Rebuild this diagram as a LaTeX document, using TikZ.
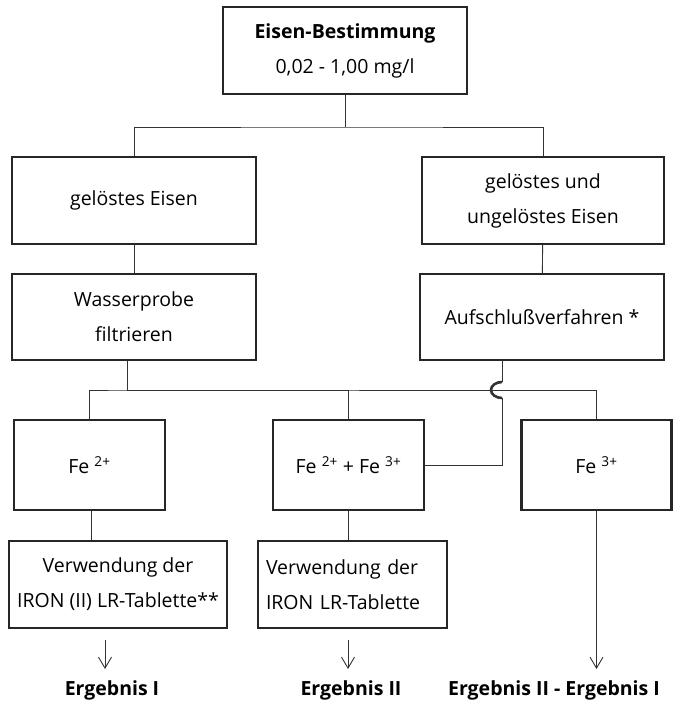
\documentclass[tikz,border=0pt]{standalone}
\usepackage{fontspec}
\setmainfont{Open Sans}
\usetikzlibrary{arrows.meta}
\tikzset{
  box/.style={draw=black!85, line width=2.2pt, minimum width=244pt, minimum height=87pt, align=center, inner sep=0pt},
  line/.style={draw=black!80, line width=0.9pt},
}

\begin{document}
\begin{tikzpicture}[x=1pt,y=-1pt,font=\fontsize{19.5}{35}\selectfont,>={Straight Barb[length=11pt,width=13pt]}]
				\useasboundingbox (0,0) rectangle (673,701);
				\node[box] (top) at (345,50.5) {\textbf{Eisen-Bestimmung}\\0,02 - 1,00 mg/l};
				\node[box] (gel) at (134,200.5) {gelöstes Eisen};
				\node[box, minimum width=242pt] (ungel) at (543,200.5) {gelöstes und\\ungelöstes Eisen};
				\node[box, minimum height=86pt] (filt) at (134,317) {Wasserprobe\\filtrieren};
				\node[box, minimum height=86pt] (auf) at (542,317) {Aufschlußverfahren *};
				\node[box, minimum width=151pt, minimum height=90pt] (fe2) at (89.5,465) {Fe \textsuperscript{2+}};
				\node[box, minimum width=151pt, minimum height=90pt] (fe23) at (348.5,465) {Fe \textsuperscript{2+} + Fe \textsuperscript{3+}};
				\node[box, minimum width=150pt, minimum height=90pt] (fe3) at (596.5,465) {Fe \textsuperscript{3+}};
				\node[box, minimum width=218pt] (v2) at (118,584.5) {Verwendung der\\IRON (II) LR-Tablette**};
				\node[box, minimum width=189pt, align=left, text width=173pt] (v23) at (352.5,584.5) {Verwendung der\\IRON LR-Tablette};
				\node (e1) at (112,690) {\textbf{Ergebnis I}};
				\node (e2) at (351,690) {\textbf{Ergebnis II}};
				\node (e3) at (554,690) {\textbf{Ergebnis II - Ergebnis I}};
				\coordinate (j1) at (345,127);
				\coordinate (j2) at (127,390);
				\coordinate (hop) at (502,390);
				\draw[line] (top) -- (j1);
				\draw[line] (gel) |- (j1) -| (ungel);
				\draw[line] (gel) -- (filt);
				\draw[line] (ungel) -- (auf);
				\draw[line] (filt.south -| j2) -- (j2);
				\draw[line] (fe2) |- (j2) -| (fe3);
				\draw[line] (j2) -| (fe23);
				\draw[line] (auf.south -| hop) -- ([yshift=8pt]hop);
				\draw[line, line width=2.6pt] ([yshift=8pt]hop) arc[start angle=90, end angle=270, x radius=11pt, y radius=8pt];
				\draw[line] ([yshift=-8pt]hop) |- (fe23.east);
				\draw[line] (fe2.south -| 91,0) -- (v2.north -| 91,0);
				\draw[line] (fe23) -- (fe23 |- v23.north);
				\coordinate (a1) at (105,640);
				\coordinate (a2) at (348,640);
				\coordinate (b1) at (105,669);
				\coordinate (b2) at (348,669);
				\coordinate (b3) at (596.5,669);
				\draw[line,->] (a1) -- (b1);
				\draw[line,->] (a2) -- (b2);
				\draw[line,->] (fe3) -- (b3);
			\end{tikzpicture}
\end{document}
